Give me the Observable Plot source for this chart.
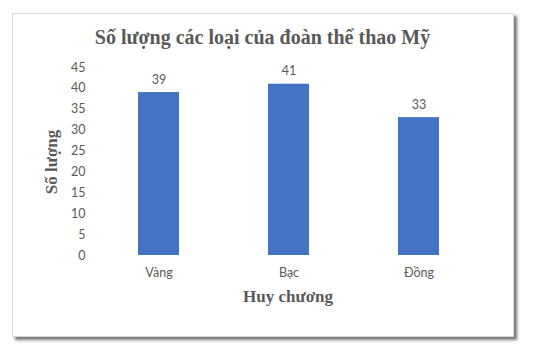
<!DOCTYPE html>
<html>
<head>
<meta charset="utf-8">
<script src="https://cdn.jsdelivr.net/npm/d3@7"></script>
<script src="https://cdn.jsdelivr.net/npm/@observablehq/plot@0.6"></script>
<style>
  html, body { margin: 0; padding: 0; background: #fff; }
  #wrap { position: relative; width: 548px; height: 347px; overflow: hidden; }
  #frame { position: absolute; left: 12px; top: 13px; width: 500px; height: 322px;
           border: 1px solid #d9d9d9; box-shadow: 3px 3px 3px rgba(0,0,0,0.55); background: #fff; }
  #chart { position: absolute; left: 0; top: 0; }
  .lbl { position: absolute; font-family: "Liberation Serif", "Times New Roman", serif; font-weight: bold; color: #595959; white-space: nowrap; }
  #title { left: 0; width: 525px; text-align: center; top: 26px; font-size: 20px; }
  #xlabel { left: 0; width: 576px; text-align: center; top: 287px; font-size: 17px; }
  #ylabel { left: 52px; top: 162px; font-size: 17px; transform: translate(-50%, -50%) rotate(-90deg); }
</style>
</head>
<body>
<div id="wrap">
  <div id="frame"></div>
  <div id="chart"></div>
  <div class="lbl" id="title">Số lượng các loại của đoàn thể thao Mỹ</div>
  <div class="lbl" id="ylabel">Số lượng</div>
  <div class="lbl" id="xlabel">Huy chương</div>
</div>
<script>
const categories = ["Vàng", "Bạc", "Đồng"];
const counts = [39, 41, 33];
const yTicks = [0, 5, 10, 15, 20, 25, 30, 35, 40, 45];

const data = categories.map((c, i) => ({ category: c, value: counts[i] }));

const chart = Plot.plot({
  width: 548,
  height: 347,
  marginLeft: 92,
  marginRight: 63,
  marginTop: 67,
  marginBottom: 92,
  style: { fontFamily: "Lato, sans-serif", fontSize: "12.5px", color: "#595959", background: "transparent", overflow: "visible" },
  x: { domain: categories, paddingInner: 0.687, paddingOuter: 0.344, label: null },
  y: { domain: [0, 45], label: null },
  marks: [
    Plot.barY(data, { x: "category", y: "value", fill: "#4472C4" }),
    Plot.text(data, { x: "category", y: "value", text: d => String(d.value), lineAnchor: "bottom", dy: -9, fill: "#595959", fontSize: 12.5 }),
    Plot.axisY({ ticks: yTicks, tickSize: 0, tickPadding: 7, label: null, fill: "#595959", fontSize: 12.5 }),
    Plot.axisX({ tickSize: 0, tickPadding: 13, label: null, fill: "#595959", fontSize: 12.5 })
  ]
});
document.getElementById("chart").appendChild(chart);
</script>
</body>
</html>
